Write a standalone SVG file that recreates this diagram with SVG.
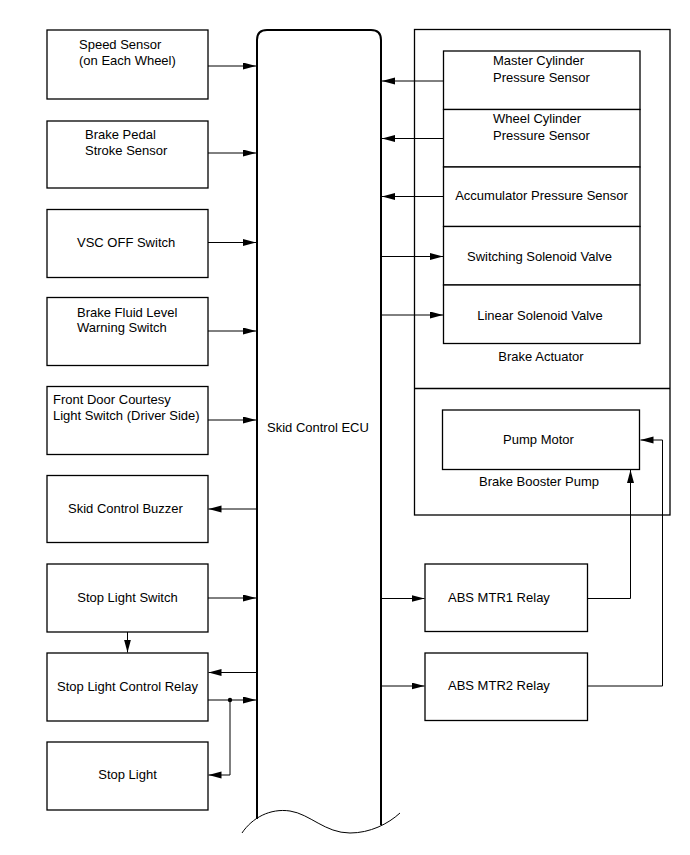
<svg xmlns="http://www.w3.org/2000/svg" width="690" height="855" viewBox="0 0 690 855">
<style>
.box{fill:#fff;stroke:#000;stroke-width:1.3}
.frame{fill:none;stroke:#000;stroke-width:1.3}
.ln{fill:none;stroke:#000;stroke-width:1}
.ecu{fill:none;stroke:#000;stroke-width:2}
text{font-family:"Liberation Sans",Arial,sans-serif;font-size:13px;fill:#000}
.c{text-anchor:middle}
</style>
<defs>
<marker id="ah" markerUnits="userSpaceOnUse" markerWidth="14" markerHeight="8" refX="13" refY="3.5" orient="auto">
<path d="M0,0 L13,3.5 L0,7 z" fill="#000"/>
</marker>
</defs>
<rect width="690" height="855" fill="#fff"/>

<g id="ecu">
<path class="ecu" d="M257,819 L257,40 Q257,30 267,30 L371,30 Q381,30 381,40 L381,825"/>
<path class="ln" d="M242,833 C252,818 270,808 290,811 C310,814 325,833 350,833 C370,833 388,824 400,813" stroke-width="1.3"/>
<text x="267" y="432">Skid Control ECU</text>
</g>

<g id="speed-sensor"><rect class="box" x="47" y="30" width="161" height="69"/>
<text x="79" y="48.5">Speed Sensor</text><text x="79" y="65">(on Each Wheel)</text></g>
<g id="brake-pedal"><rect class="box" x="47" y="121" width="161" height="67"/>
<text x="85" y="139">Brake Pedal</text><text x="85" y="155">Stroke Sensor</text></g>
<g id="vsc-off"><rect class="box" x="47" y="209.5" width="161" height="68"/>
<text x="77" y="246.5">VSC OFF Switch</text></g>
<g id="brake-fluid"><rect class="box" x="47" y="297.5" width="161" height="68"/>
<text x="77" y="316.5">Brake Fluid Level</text><text x="77" y="331.5">Warning Switch</text></g>
<g id="front-door"><rect class="box" x="47" y="386.5" width="161" height="68"/>
<text x="53" y="404">Front Door Courtesy</text><text x="53" y="420">Light Switch (Driver Side)</text></g>
<g id="buzzer"><rect class="box" x="47" y="475.5" width="161" height="67"/>
<text x="68" y="513">Skid Control Buzzer</text></g>
<g id="stop-light-switch"><rect class="box" x="47" y="564" width="161" height="68"/>
<text class="c" x="127.5" y="602">Stop Light Switch</text></g>
<g id="stop-light-relay"><rect class="box" x="47" y="653" width="161" height="68"/>
<text class="c" x="127.5" y="690.5">Stop Light Control Relay</text></g>
<g id="stop-light"><rect class="box" x="47" y="742" width="161" height="68"/>
<text class="c" x="127.5" y="779">Stop Light</text></g>

<g id="brake-actuator">
<rect class="frame" x="414.5" y="29.5" width="255.5" height="485.5"/>
<line class="frame" x1="414.5" y1="388.5" x2="670" y2="388.5"/>
<text class="c" x="541" y="361">Brake Actuator</text>
</g>
<g id="master-cyl"><rect class="box" x="443.5" y="51" width="196.5" height="58.5"/>
<text x="493" y="65">Master Cylinder</text><text x="493" y="81.5">Pressure Sensor</text></g>
<g id="wheel-cyl"><rect class="box" x="443.5" y="109.5" width="196.5" height="57.5"/>
<text x="493" y="123">Wheel Cylinder</text><text x="493" y="139.5">Pressure Sensor</text></g>
<g id="accumulator"><rect class="box" x="443.5" y="167" width="196.5" height="59.5"/>
<text class="c" x="541.5" y="200">Accumulator Pressure Sensor</text></g>
<g id="switching-valve"><rect class="box" x="443.5" y="226.5" width="196.5" height="58.5"/>
<text class="c" x="539.5" y="260.5">Switching Solenoid Valve</text></g>
<g id="linear-valve"><rect class="box" x="443.5" y="285" width="196.5" height="58.5"/>
<text class="c" x="540" y="319.5">Linear Solenoid Valve</text></g>

<g id="pump-motor"><rect class="box" x="442.5" y="410" width="197" height="59.5"/>
<text class="c" x="538.5" y="443.5">Pump Motor</text></g>
<text class="c" x="539" y="486" id="brake-booster-label">Brake Booster Pump</text>

<g id="abs-mtr1"><rect class="box" x="425" y="564" width="162.5" height="67.5"/>
<text x="448" y="602">ABS MTR1 Relay</text></g>
<g id="abs-mtr2"><rect class="box" x="425" y="653" width="162.5" height="67.5"/>
<text x="448" y="690">ABS MTR2 Relay</text></g>

<g id="connectors">
<line class="ln" x1="208" y1="66" x2="256" y2="66" marker-end="url(#ah)"/>
<line class="ln" x1="208" y1="153" x2="256" y2="153" marker-end="url(#ah)"/>
<line class="ln" x1="208" y1="242.5" x2="256" y2="242.5" marker-end="url(#ah)"/>
<line class="ln" x1="208" y1="331" x2="256" y2="331" marker-end="url(#ah)"/>
<line class="ln" x1="208" y1="420" x2="256" y2="420" marker-end="url(#ah)"/>
<line class="ln" x1="256" y1="509" x2="208.5" y2="509" marker-end="url(#ah)"/>
<line class="ln" x1="208" y1="598" x2="256" y2="598" marker-end="url(#ah)"/>
<line class="ln" x1="127.5" y1="632" x2="127.5" y2="652.5" marker-end="url(#ah)"/>
<line class="ln" x1="256" y1="672.5" x2="208.5" y2="672.5" marker-end="url(#ah)"/>
<line class="ln" x1="208" y1="700" x2="256" y2="700" marker-end="url(#ah)"/>
<polyline class="ln" points="230,700 230,775 208.5,775" marker-end="url(#ah)"/>
<circle cx="230" cy="700" r="2.2" fill="#000"/>

<line class="ln" x1="443" y1="81" x2="382" y2="81" marker-end="url(#ah)"/>
<line class="ln" x1="443" y1="138.5" x2="382" y2="138.5" marker-end="url(#ah)"/>
<line class="ln" x1="443" y1="196.5" x2="382" y2="196.5" marker-end="url(#ah)"/>
<line class="ln" x1="382" y1="256.5" x2="443" y2="256.5" marker-end="url(#ah)"/>
<line class="ln" x1="382" y1="315" x2="443" y2="315" marker-end="url(#ah)"/>
<line class="ln" x1="382" y1="598.5" x2="424.5" y2="598.5" marker-end="url(#ah)"/>
<line class="ln" x1="382" y1="686" x2="424.5" y2="686" marker-end="url(#ah)"/>
<polyline class="ln" points="587.5,598.5 630.5,598.5 630.5,470" marker-end="url(#ah)"/>
<polyline class="ln" points="587.5,686 662.5,686 662.5,440 640.5,440" marker-end="url(#ah)"/>
</g>
</svg>
